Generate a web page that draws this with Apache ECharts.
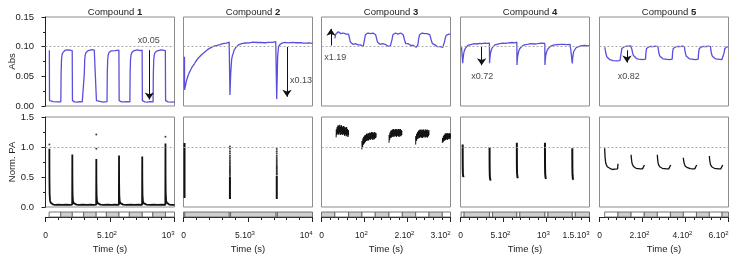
<!DOCTYPE html>
<html>
<head>
<meta charset="utf-8">
<script src="https://cdn.jsdelivr.net/npm/echarts@6/dist/echarts.min.js"></script>
<style>
  html, body { margin: 0; padding: 0; background: #fff; }
  #chart { width: 739px; height: 259px; }
</style>
</head>
<body>
<div id="chart"></div>
<script>
// ---- data ----
const compounds = ["1", "2", "3", "4", "5"];
const xMax = [1000, 10000, 300, 1500, 600];
const xStep = [500, 5000, 100, 500, 200];
const tickValues = [
  [0, 500, 1000], [0, 5000, 10000], [0, 100, 200, 300], [0, 500, 1000, 1500], [0, 200, 400, 600]
];
const tickLabels = [
  ["0", "5.10²", "10³"], ["0", "5.10³", "10⁴"], ["0", "10²", "2.10²", "3.10²"],
  ["0", "5.10²", "10³", "1.5.10³"], ["0", "2.10²", "4.10²", "6.10²"]
];

// absorbance traces [t, Abs]
const abs1 = [
  [30,0.094],[31,0.009],[45,0.007],[60,0.0075],[75,0.0065],[90,0.007],[105,0.0075],[119,0.007],
  [121,0.055],[124,0.078],[128,0.086],[134,0.090],[142,0.092],[152,0.094],[165,0.0935],[180,0.0945],[195,0.094],[207,0.0935],
  [209,0.009],[225,0.007],[245,0.0065],[265,0.0075],[285,0.007],[299,0.0068],
  [301,0.055],[304,0.078],[308,0.086],[314,0.090],[322,0.092],[332,0.0935],[345,0.094],[360,0.095],[378,0.094],[393,0.0945],
  [395,0.009],[410,0.007],[430,0.0075],[450,0.0065],[465,0.007],[477,0.0072],
  [479,0.055],[482,0.078],[486,0.086],[492,0.090],[500,0.092],[510,0.093],[525,0.094],[540,0.0935],[555,0.0945],[569,0.094],
  [571,0.009],[590,0.007],[610,0.0068],[630,0.0075],[645,0.007],[654,0.0068],
  [656,0.055],[659,0.078],[663,0.086],[669,0.090],[677,0.092],[687,0.0935],[700,0.094],[715,0.0945],[732,0.0935],[749,0.094],
  [751,0.009],[770,0.007],[790,0.0065],[810,0.0075],[825,0.007],[834,0.0068],
  [836,0.055],[839,0.078],[843,0.086],[849,0.090],[857,0.092],[867,0.093],[880,0.094],[895,0.0945],[912,0.094],[929,0.0935],
  [931,0.009],[950,0.007],[965,0.0075],[980,0.0065],[1000,0.007]
];
const abs2 = [
  [78,0.083],[79,0.027],[100,0.030],[150,0.034],[211,0.041],[280,0.046],[350,0.051],[420,0.055],[469,0.0575],[560,0.061],
  [650,0.065],[750,0.068],[859,0.0716],[950,0.075],[1050,0.078],[1150,0.081],[1250,0.0826],[1380,0.086],[1500,0.088],
  [1640,0.091],[1773,0.0935],[1860,0.095],[1950,0.097],[2050,0.0975],[2164,0.0994],[2300,0.1005],[2450,0.1015],[2600,0.102],
  [2700,0.1035],[2813,0.1034],[2950,0.104],[3050,0.105],[3200,0.1055],[3336,0.1061],[3450,0.107],[3540,0.1078],[3590,0.109],
  [3600,0.0184],[3660,0.055],[3730,0.078],[3790,0.085],[3852,0.0885],[3920,0.094],[3980,0.097],[4050,0.0985],[4117,0.0994],
  [4200,0.101],[4300,0.1035],[4400,0.1045],[4508,0.1051],[4650,0.1058],[4800,0.1062],[4950,0.1075],[5100,0.1065],[5250,0.107],
  [5400,0.1078],[5550,0.1065],[5700,0.107],[5850,0.1062],[6000,0.107],[6150,0.1075],[6300,0.1066],[6450,0.107],[6600,0.1072],
  [6750,0.1065],[6900,0.1074],[7050,0.107],[7150,0.1085],[7200,0.11],[7225,0.0117],[7260,0.045],[7300,0.085],[7367,0.0994],
  [7450,0.103],[7550,0.1045],[7633,0.1061],[7750,0.1068],[7850,0.1072],[8000,0.107],[8150,0.1065],[8281,0.1068],[8450,0.1072],
  [8600,0.1064],[8750,0.1066],[8900,0.1062],[9100,0.1066],[9320,0.1061],[9500,0.106],[9700,0.1063],[9850,0.1058],[10000,0.1055]
];
const abs3 = [
  [31,0.114],[33,0.121],[35,0.124],[37,0.122],[39,0.125],[41,0.123],[43,0.124],[45,0.122],[47,0.124],[49,0.121],[51,0.123],
  [53,0.122],[55,0.124],[57,0.121],[59,0.122],[61,0.12],[63,0.121],[65,0.118],[67,0.108],[69,0.105],[71,0.106],[73,0.104],
  [75,0.105],[77,0.103],[79,0.105],[81,0.104],[83,0.105],[85,0.103],[87,0.104],[89,0.102],[91,0.103],[93,0.101],[95,0.102],
  [97,0.1],[99,0.103],[100,0.112],[102,0.12],[104,0.122],[106,0.121],[108,0.123],[110,0.121],[112,0.123],[114,0.122],
  [116,0.124],[118,0.121],[120,0.123],[122,0.121],[124,0.122],[126,0.12],[128,0.119],[130,0.108],[132,0.105],[134,0.106],
  [136,0.104],[138,0.105],[140,0.103],[142,0.105],[144,0.104],[146,0.103],[148,0.104],[150,0.102],[152,0.103],[154,0.101],
  [156,0.102],[158,0.1],[160,0.101],[162,0.102],[164,0.112],[166,0.12],[168,0.122],[170,0.121],[172,0.123],[174,0.122],
  [176,0.124],[178,0.121],[180,0.123],[182,0.122],[184,0.123],[186,0.121],[188,0.122],[190,0.12],[192,0.119],[194,0.109],
  [196,0.105],[198,0.106],[200,0.104],[202,0.105],[204,0.103],[206,0.104],[208,0.102],[210,0.103],[212,0.101],[214,0.102],
  [216,0.1],[218,0.101],[220,0.099],[222,0.101],[224,0.103],[226,0.113],[228,0.12],[230,0.122],[232,0.121],[234,0.123],
  [236,0.121],[238,0.124],[240,0.122],[242,0.123],[244,0.121],[246,0.122],[248,0.12],[250,0.122],[252,0.12],[254,0.119],
  [256,0.109],[258,0.105],[260,0.104],[262,0.102],[264,0.103],[266,0.101],[268,0.102],[270,0.1],[272,0.101],[274,0.099],
  [276,0.1],[278,0.098],[280,0.1],[282,0.099],[284,0.101],[286,0.108],[288,0.115],[290,0.119],[292,0.12],[294,0.122],
  [296,0.121],[298,0.122],[300,0.121]
];
const abs4 = [
  [12,0.099],[18,0.1],[24,0.099],[26,0.072],[29,0.078],[33,0.084],[38,0.089],[45,0.093],[55,0.097],[68,0.1],[85,0.102],
  [105,0.1035],[130,0.104],[160,0.105],[190,0.1045],[220,0.1055],[250,0.105],[280,0.106],[310,0.1055],[336,0.106],
  [338,0.072],[341,0.079],[345,0.085],[350,0.09],[358,0.094],[368,0.098],[382,0.101],[400,0.103],[425,0.104],[455,0.105],
  [490,0.106],[520,0.1055],[560,0.1065],[600,0.107],[630,0.1065],[655,0.1075],
  [657,0.069],[660,0.076],[664,0.083],[670,0.088],[678,0.093],[690,0.097],[705,0.1],[725,0.102],[750,0.1035],[780,0.104],
  [820,0.105],[860,0.1045],[900,0.105],[940,0.106],[980,0.1055],
  [982,0.069],[985,0.076],[989,0.083],[995,0.088],[1003,0.092],[1015,0.096],[1030,0.099],[1050,0.101],[1080,0.1025],
  [1120,0.1035],[1160,0.104],[1200,0.104],[1240,0.1035],[1275,0.104],[1298,0.104],
  [1300,0.0716],[1303,0.078],[1307,0.084],[1312,0.089],[1320,0.093],[1332,0.096],[1348,0.099],[1370,0.1005],[1400,0.1015],
  [1440,0.102],[1480,0.1015],[1500,0.102]
];
const abs5 = [
  [25,0.099],[27,0.094],[30,0.088],[34,0.083],[40,0.08],[48,0.078],[56,0.077],[64,0.0765],[72,0.0755],[80,0.076],[88,0.0755],
  [95,0.0765],[99,0.078],[101,0.09],[104,0.097],[108,0.099],[115,0.1],[122,0.1005],[130,0.101],[138,0.1005],[145,0.1015],
  [149,0.101],[151,0.095],[154,0.089],[158,0.085],[164,0.082],[172,0.08],[182,0.079],[192,0.0785],[202,0.078],[210,0.0775],
  [214,0.079],[216,0.09],[219,0.097],[223,0.099],[230,0.1],[240,0.1005],[250,0.1],[260,0.101],[268,0.1005],[272,0.1],
  [274,0.094],[277,0.088],[281,0.084],[287,0.081],[295,0.0795],[305,0.079],[315,0.0785],[325,0.078],[333,0.078],[338,0.079],
  [340,0.09],[343,0.097],[347,0.099],[355,0.1],[365,0.1005],[375,0.1],[385,0.101],[392,0.1005],[395,0.1],
  [397,0.094],[400,0.088],[404,0.084],[410,0.081],[418,0.0795],[428,0.079],[438,0.0785],[448,0.078],[455,0.078],[459,0.079],
  [461,0.09],[464,0.097],[468,0.099],[476,0.1],[486,0.1005],[496,0.1],[506,0.101],[513,0.1005],[516,0.1],
  [518,0.094],[521,0.088],[525,0.084],[531,0.081],[539,0.0795],[549,0.079],[559,0.0785],[569,0.078],[575,0.078],[578,0.079],
  [580,0.09],[583,0.097],[587,0.099],[594,0.1],[600,0.1]
];

// normalised photocurrent [t, PA]
const pa1 = [
  [30,0.97],[30.5,0.5],[32,0.22],[35,0.11],[40,0.07],[48,0.05],[60,0.04],[80,0.035],[100,0.04],[130,0.035],[160,0.038],[190,0.035],[207,0.04],
  [208,0.873],[208.5,0.45],[210,0.2],[213,0.1],[218,0.065],[226,0.05],[240,0.04],[260,0.035],[290,0.038],[320,0.035],[350,0.04],[375,0.035],[393,0.038],
  [394,0.80],[394.5,0.42],[396,0.2],[399,0.1],[404,0.065],[412,0.05],[426,0.04],[450,0.035],[480,0.038],[510,0.035],[540,0.04],[569,0.036],
  [570,0.86],[570.5,0.45],[572,0.2],[575,0.1],[580,0.065],[588,0.05],[602,0.04],[630,0.035],[660,0.038],[690,0.035],[720,0.04],[749,0.036],
  [750,0.84],[750.5,0.45],[752,0.2],[755,0.1],[760,0.065],[768,0.05],[782,0.04],[810,0.035],[840,0.038],[870,0.035],[900,0.04],[929,0.036],
  [930,1.06],[930.5,0.5],[932,0.22],[935,0.11],[940,0.07],[948,0.05],[960,0.04],[980,0.035],[1000,0.037]
];
const pa1Dots = [[30,1.04],[394,1.21],[394,0.97],[930,1.17]];
const pa2Lines = [
  [[78,1.067],[78,0.15]],
  [[3600,0.51],[3600,0.133]],
  [[7230,0.52],[7230,0.133]]
];
const pa2Dots = [
  [3600,1.01],[3600,0.97],[3600,0.93],[3600,0.895],[3600,0.86],[3600,0.83],[3600,0.80],[3600,0.77],[3600,0.745],[3600,0.72],
  [3600,0.695],[3600,0.67],[3600,0.65],[3600,0.63],[3600,0.61],[3600,0.59],[3600,0.57],[3600,0.55],[3600,0.53],
  [7230,0.967],[7230,0.93],[7230,0.895],[7230,0.86],[7230,0.83],[7230,0.80],[7230,0.775],[7230,0.75],[7230,0.725],[7230,0.70],
  [7230,0.68],[7230,0.66],[7230,0.64],[7230,0.62],[7230,0.60],[7230,0.58],[7230,0.56],[7230,0.54]
];
const pa3 = [
  [[34,1.16],[34.5,1.29],[35.5,1.2],[36.5,1.33],[37.5,1.22],[38.5,1.36],[39.5,1.21],[40.5,1.35],[41.5,1.23],[42.5,1.37],[43.5,1.2],
   [44.5,1.34],[45.5,1.22],[46.5,1.36],[47.5,1.21],[48.5,1.33],[49.5,1.2],[50.5,1.35],[51.5,1.22],[52.5,1.34],[53.5,1.19],[54.5,1.33],
   [55.5,1.21],[56.5,1.32],[57.5,1.18],[58.5,1.33],[59.5,1.2],[60.5,1.3],[61.5,1.17],[62.5,1.28],[63,1.2]],
  [[94,0.96],[94.5,1.1],[95.5,1.0],[96.5,1.14],[97.5,1.04],[98.5,1.17],[99.5,1.06],[100.5,1.19],[101.5,1.08],[102.5,1.2],[103.5,1.1],
   [104.5,1.22],[105.5,1.1],[106.5,1.21],[107.5,1.12],[108.5,1.23],[109.5,1.11],[110.5,1.22],[111.5,1.13],[112.5,1.24],[113.5,1.12],
   [114.5,1.23],[115.5,1.14],[116.5,1.25],[117.5,1.13],[118.5,1.24],[119.5,1.12],[120.5,1.23],[121.5,1.14],[122.5,1.25],[123.5,1.13],
   [124.5,1.24],[125.5,1.15],[126.5,1.23],[127,1.16]],
  [[157,1.07],[157.5,1.2],[158.5,1.12],[159.5,1.24],[160.5,1.15],[161.5,1.27],[162.5,1.16],[163.5,1.28],[164.5,1.17],[165.5,1.29],
   [166.5,1.18],[167.5,1.3],[168.5,1.17],[169.5,1.28],[170.5,1.19],[171.5,1.3],[172.5,1.18],[173.5,1.29],[174.5,1.17],[175.5,1.3],
   [176.5,1.19],[177.5,1.28],[178.5,1.18],[179.5,1.3],[180.5,1.17],[181.5,1.29],[182.5,1.19],[183.5,1.3],[184.5,1.18],[185.5,1.28],
   [186.5,1.2],[187,1.27]],
  [[219,1.04],[219.5,1.18],[220.5,1.1],[221.5,1.22],[222.5,1.13],[223.5,1.25],[224.5,1.14],[225.5,1.27],[226.5,1.16],[227.5,1.28],
   [228.5,1.15],[229.5,1.29],[230.5,1.17],[231.5,1.27],[232.5,1.16],[233.5,1.29],[234.5,1.15],[235.5,1.28],[236.5,1.17],[237.5,1.29],
   [238.5,1.16],[239.5,1.27],[240.5,1.18],[241.5,1.29],[242.5,1.16],[243.5,1.28],[244.5,1.17],[245.5,1.29],[246.5,1.16],[247.5,1.27],
   [248.5,1.18],[249.5,1.28],[250,1.2]],
  [[281,1.07],[281.5,1.15],[282.5,1.08],[283.5,1.18],[284.5,1.1],[285.5,1.2],[286.5,1.11],[287.5,1.22],[288.5,1.12],[289.5,1.23],
   [290.5,1.13],[291.5,1.22],[292.5,1.12],[293.5,1.23],[294.5,1.14],[295.5,1.22],[296.5,1.13],[297.5,1.23],[298.5,1.14],[299.5,1.22],[300,1.15]]
];
const pa4 = [
  [[25,1.04],[25.5,0.82],[26,0.68],[27,0.6],[28,0.56],[30,0.53],[32,0.5],[34,0.52],[36,0.49],[38,0.48],[40,0.5]],
  [[338,1.0],[338.5,0.8],[339,0.66],[340,0.57],[341,0.52],[343,0.48],[345,0.45],[347,0.47],[349,0.44],[351,0.43],[353,0.45]],
  [[655,1.07],[655.5,0.84],[656,0.69],[657,0.6],[658,0.56],[660,0.53],[662,0.5],[664,0.51],[666,0.49],[668,0.48],[670,0.5]],
  [[982,1.07],[982.5,0.84],[983,0.69],[984,0.6],[985,0.55],[987,0.52],[989,0.49],[991,0.5],[993,0.48],[995,0.47],[997,0.49]],
  [[1300,0.98],[1300.5,0.78],[1301,0.65],[1302,0.57],[1303,0.53],[1305,0.5],[1307,0.47],[1309,0.48],[1311,0.46],[1313,0.455],[1315,0.47]]
];
const pa5 = [
  [[24,0.98],[25,0.9],[26,0.83],[28,0.76],[30,0.72],[33,0.69],[36,0.67],[40,0.655],[44,0.64],[48,0.645],[52,0.63],[56,0.635],
   [60,0.625],[64,0.63],[68,0.62],[72,0.63],[76,0.625],[80,0.63],[84,0.635],[86,0.72]],
  [[147,0.87],[148,0.82],[150,0.76],[152,0.72],[155,0.69],[158,0.675],[162,0.66],[166,0.655],[170,0.645],[175,0.65],[180,0.64],
   [185,0.645],[190,0.635],[195,0.64],[200,0.635],[204,0.64],[207,0.645],[209,0.7]],
  [[269,0.87],[270,0.81],[272,0.75],[274,0.71],[277,0.685],[280,0.67],[284,0.66],[288,0.65],[292,0.645],[297,0.65],[302,0.64],
   [307,0.645],[312,0.635],[317,0.64],[322,0.635],[326,0.64],[329,0.645],[331,0.7]],
  [[390,0.82],[391,0.78],[393,0.74],[395,0.71],[398,0.685],[401,0.67],[405,0.66],[409,0.655],[413,0.645],[418,0.65],[423,0.64],
   [428,0.645],[433,0.635],[438,0.64],[443,0.635],[447,0.645],[450,0.65],[452,0.7]],
  [[511,0.85],[512,0.8],[514,0.75],[516,0.71],[519,0.685],[522,0.67],[526,0.66],[530,0.65],[534,0.645],[539,0.65],[544,0.64],
   [549,0.645],[554,0.635],[559,0.64],[564,0.635],[568,0.64],[571,0.645],[573,0.7]]
];

// illumination strips [start, end, dark(1)/light(0)]
const strip1 = [[28,118,0],[118,208,1],[208,296,0],[296,393,1],[393,472,0],[472,570,1],[570,650,0],[650,750,1],[750,832,0],[832,930,1],[930,1000,0]];
const strip2 = [[0,100,0],[100,3550,1],[3550,3650,0],[3650,7180,1],[7180,7280,0],[7280,10000,1]];
const strip3 = [[0,31,1],[31,63,0],[63,94,1],[94,125,0],[125,157,1],[157,188,0],[188,219,1],[219,250,0],[250,281,1],[281,300,0]];
const strip4 = [[7,42,0],[42,338,1],[338,373,0],[373,655,1],[655,690,0],[690,982,1],[982,1017,0],[1017,1300,1],[1300,1335,0],[1335,1500,1]];
const strip5 = [[24,86,0],[86,147,1],[147,208,0],[208,269,1],[269,330,0],[330,390,1],[390,451,0],[451,511,1],[511,570,0],[570,600,1]];

// scaling arrows: [t, from, to], label [t, v, text]
const arrows = [[805,0.094,0.011],[8023,0.0994,0.0156],[22,0.102,0.130],[246,0.0994,0.0687],[128,0.0939,0.0732]];
const arrowLabels = [[800,0.1106,"x0.05"],[9117,0.0424,"x0.13"],[32,0.0816,"x1.19"],[253,0.0503,"x0.72"],[136,0.0503,"x0.82"]];

// ---- layout ----
const FONT = "Liberation Sans, Arial, sans-serif";
const LEFT = [45.5, 183.5, 321.5, 460.5, 599.5];
const W = 129;
const absTraces = [abs1, abs2, abs3, abs4, abs5];
const strips = [strip1, strip2, strip3, strip4, strip5];
const TRACE = "#5a4fdc";
const INK = "#111";
const SUP = { "²": "2", "³": "3", "⁴": "4" };

// "5.10²" -> rich text with a small raised exponent; inner labels nudged left
function tickText(s, isLast) {
  const last = s.slice(-1);
  if (!SUP[last]) return "{n|" + s + "}";
  const body = "{n|" + s.slice(0, -1) + "}{s|" + SUP[last] + "}";
  return isLast ? body : body + "{q| }";
}

const grids = [], xAxes = [], yAxes = [], series = [];
const refLine = (v) => ({
  silent: true, symbol: "none", label: { show: false },
  lineStyle: { color: "#aaa", type: [2, 2], width: 1 },
  data: [{ yAxis: v }]
});

for (let i = 0; i < 5; i++) {
  grids.push({ left: LEFT[i], top: 17, width: W, height: 89, show: true, borderColor: "#8c8c8c", borderWidth: 1, backgroundColor: "#fff" });
}
for (let i = 0; i < 5; i++) {
  grids.push({ left: LEFT[i], top: 117, width: W, height: 90, show: true, borderColor: "#8c8c8c", borderWidth: 1, backgroundColor: "#fff" });
}
for (let i = 0; i < 5; i++) {
  grids.push({ left: LEFT[i], top: 212, width: W, height: 5 });
}

for (let g = 0; g < 15; g++) {
  const i = g % 5;
  const isStrip = g >= 10;
  xAxes.push({
    gridIndex: g, type: "value", min: 0, max: xMax[i], interval: xStep[i],
    show: isStrip,
    offset: 6,
    axisLine: { show: true, lineStyle: { color: "#222", width: 1 } },
    axisTick: { show: true, length: 5, lineStyle: { color: "#222" } },
    minorTick: { show: true, splitNumber: 5, length: 3, lineStyle: { color: "#222" } },
    splitLine: { show: false },
    axisLabel: {
      margin: 7, showMinLabel: true, showMaxLabel: true, alignMaxLabel: "right", hideOverlap: false,
      rich: {
        n: { fontSize: 8.5, fontFamily: FONT, color: "#222", lineHeight: 11 },
        s: { fontSize: 6, fontFamily: FONT, color: "#222", verticalAlign: "top", lineHeight: 11 },
        q: { width: 6, lineHeight: 11 }
      },
      formatter: (v) => {
        const k = tickValues[i].indexOf(v);
        return k >= 0 ? tickText(tickLabels[i][k], k === tickValues[i].length - 1) : "";
      }
    },
    name: "Time (s)", nameLocation: "middle", nameGap: 21, nameMoveOverlap: false,
    nameTextStyle: { fontSize: 9.5, fontFamily: FONT, color: "#222" }
  });
  const base = {
    gridIndex: g, type: "value", show: false, splitLine: { show: false }
  };
  if (g < 5) {
    Object.assign(base, { min: 0, max: 0.15, interval: 0.05 });
  } else if (g < 10) {
    Object.assign(base, { min: 0, max: 1.5, interval: 0.5 });
  } else {
    Object.assign(base, { min: 0, max: 1 });
  }
  if (g === 0 || g === 5) {
    Object.assign(base, {
      show: true, offset: 2.5,
      name: g === 0 ? "Abs" : "Norm. PA", nameLocation: "middle", nameGap: 26, nameMoveOverlap: false,
      nameTextStyle: { fontSize: 9.5, fontFamily: FONT, color: "#222" },
      axisLine: { show: true, lineStyle: { color: "#222", width: 1 } },
      axisTick: { show: true, length: 4, lineStyle: { color: "#222" } },
      minorTick: { show: true, splitNumber: 2, length: 2.5, lineStyle: { color: "#222" } },
      axisLabel: {
        margin: 9, fontSize: 9.5, fontFamily: FONT, color: "#222",
        formatter: (v) => v.toFixed(g === 0 ? 2 : 1)
      }
    });
  }
  yAxes.push(base);
}

// top traces
absTraces.forEach((d, i) => {
  series.push({
    type: "line", xAxisIndex: i, yAxisIndex: i, data: d, showSymbol: false, symbol: "none",
    lineStyle: { color: TRACE, width: 1.3 }, markLine: refLine(0.1), z: 3
  });
  const a = arrows[i], lb = arrowLabels[i];
  series.push({
    type: "scatter", xAxisIndex: i, yAxisIndex: i, symbolSize: 0, z: 5,
    data: [{ value: [lb[0], lb[1]], name: lb[2] }],
    label: { show: true, position: "inside", formatter: (p) => p.name, fontSize: 9, fontFamily: FONT, color: "#111" },
    markLine: {
      silent: true, symbol: ["none", "arrow"], symbolSize: 7, label: { show: false },
      lineStyle: { color: "#111", width: 1, type: "solid" },
      data: [[{ coord: [a[0], a[1]] }, { coord: [a[0], a[2]] }]]
    }
  });
});

// bottom panels
const lineS = (gi, d, w, extra) => Object.assign({
  type: "line", xAxisIndex: gi, yAxisIndex: gi, data: d, showSymbol: false, symbol: "none",
  lineStyle: { color: INK, width: w }, z: 3
}, extra || {});

series.push(lineS(5, pa1, 1.8, { markLine: refLine(1.0) }));
series.push({ type: "scatter", xAxisIndex: 5, yAxisIndex: 5, data: pa1Dots, symbolSize: 2, itemStyle: { color: INK } });

pa2Lines.forEach((d, k) => series.push(lineS(6, d, 2, k === 0 ? { markLine: refLine(1.0) } : {})));
series.push({ type: "scatter", xAxisIndex: 6, yAxisIndex: 6, data: pa2Dots, symbolSize: 2, itemStyle: { color: INK } });

pa3.forEach((d, k) => series.push(lineS(7, d, 1, k === 0 ? { markLine: refLine(1.0) } : {})));
pa4.forEach((d, k) => series.push(lineS(8, d, 2, k === 0 ? { markLine: refLine(1.0) } : {})));
pa5.forEach((d, k) => series.push(lineS(9, d, 1.3, k === 0 ? { markLine: refLine(1.0) } : {})));

// illumination strips
strips.forEach((d, i) => {
  series.push({
    type: "custom", xAxisIndex: 10 + i, yAxisIndex: 10 + i, data: d,
    encode: { x: [0, 1] },
    renderItem: (params, api) => {
      const p0 = api.coord([api.value(0), 1]);
      const p1 = api.coord([api.value(1), 0]);
      return {
        type: "rect",
        shape: { x: p0[0], y: p0[1], width: p1[0] - p0[0], height: p1[1] - p0[1] },
        style: { fill: api.value(2) ? "#cfcfcf" : "#fff", stroke: "#555", lineWidth: 0.8 }
      };
    }
  });
});

const titles = compounds.map((n, i) => ({
  text: "{a|Compound }{b|" + n + "}",
  left: LEFT[i] + W / 2, top: 2, textAlign: "center",
  textStyle: {
    fontWeight: "normal",
    rich: {
      a: { fontSize: 9.5, fontFamily: FONT, color: "#222", fontWeight: "normal" },
      b: { fontSize: 9.5, fontFamily: FONT, color: "#222", fontWeight: "bold" }
    }
  }
}));

const chart = echarts.init(document.getElementById("chart"), null, { renderer: "canvas" });
chart.setOption({
  animation: false,
  backgroundColor: "#fff",
  textStyle: { fontFamily: FONT },
  title: titles,
  grid: grids,
  xAxis: xAxes,
  yAxis: yAxes,
  series: series
});
</script>
</body>
</html>
